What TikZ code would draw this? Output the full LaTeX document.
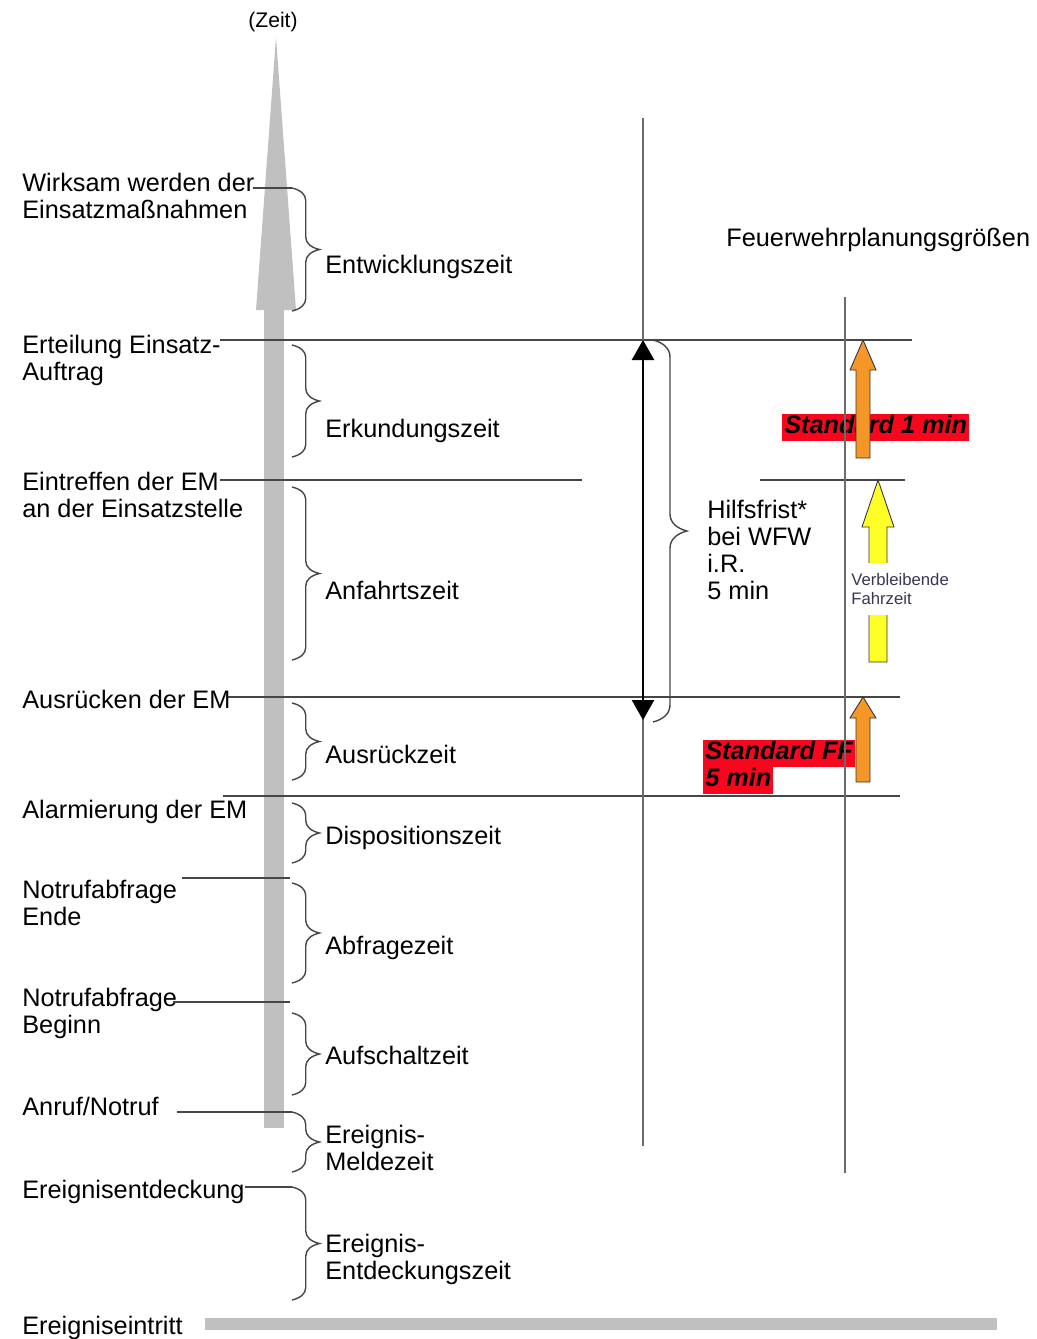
\documentclass[tikz,border=0pt]{standalone}
\usepackage{fontspec}
\setmainfont{Liberation Sans}
\usetikzlibrary{arrows.meta,decorations.pathreplacing}

\definecolor{axisgray}{RGB}{192,192,192}
\definecolor{linegray}{RGB}{70,70,70}
\definecolor{markred}{RGB}{250,5,30}
\definecolor{arroworange}{RGB}{245,150,40}
\definecolor{arrowyellow}{RGB}{255,255,40}
\definecolor{smalltext}{RGB}{60,52,82}

\begin{document}
\begin{tikzpicture}[
    x=0.02cm, y=-0.02cm,
    every node/.style={color=black, inner sep=0pt,
        font=\fontsize{14.4}{15.4}\selectfont},
    event/.style={anchor=west, align=left},
    period/.style={anchor=west, align=left},
    mark line/.style={draw=linegray, line width=0.9pt},
    time line/.style={draw=linegray!80, line width=1pt},
    span brace/.style={draw=linegray, line width=0.8pt, decorate,
        decoration={brace, amplitude=0.25cm, transform={yscale=2.2}}},
    hilfs brace/.style={draw=linegray, line width=0.8pt, decorate,
        decoration={brace, amplitude=0.34cm, transform={yscale=2}}},
    hilfs arrow/.style={line width=1.5pt,
        {Triangle[width=0.44cm,length=0.4cm]}-{Triangle[width=0.44cm,length=0.4cm]}},
    highlight/.style={anchor=west, fill=markred, inner xsep=0.04cm,
        font=\fontsize{14.4}{15.4}\selectfont\bfseries\itshape,
        text height=0.4cm, text depth=0.14cm},
    block arrow/.style={draw=black!80, line width=0.5pt, line join=miter}
    ]
    \useasboundingbox (0,0) rectangle (1036,1339);
    % time axis
    \fill[axisgray] (264,1128) rectangle (284,310);
    \fill[axisgray] (256,310) -- (276,37) -- (296,310) -- cycle;
    \node (zeit) at (273,22) {\fontsize{12}{13}\selectfont(Zeit)};
    \fill[axisgray] (205,1318) rectangle (997,1330);
    % red marks
    \node[highlight] (std1) at (782,427) {Standard 1 min};
    \node[highlight] (stdff) at (703,753) {Standard FF};
    \node[highlight] (stdffmin) at (703,780) {5 min};
    % events
    \node[event] (wirksam) at (22,195.5) {Wirksam werden der\\Einsatzmaßnahmen};
    \node[event] (erteilung) at (22,360) {Erteilung Einsatz-\\Auftrag};
    \node[event] (eintreffen) at (22,495) {Eintreffen der EM\\an der Einsatzstelle};
    \node[event] (ausruecken) at (22,699) {Ausrücken der EM};
    \node[event] (alarmierung) at (22,812) {Alarmierung der EM};
    \node[event] (abfrageende) at (22,903) {Notrufabfrage\\Ende};
    \node[event] (abfragebeginn) at (22,1013) {Notrufabfrage\\Beginn};
    \node[event] (anruf) at (22,1106) {Anruf/Notruf};
    \node[event] (entdeckung) at (22,1192) {Ereignisentdeckung};
    \node[event] (eintritt) at (22,1328) {Ereigniseintritt};
    % periods
    \node[period] (entwicklung) at (325,267) {Entwicklungszeit};
    \node[period] (erkundung) at (325,431) {Erkundungszeit};
    \node[period] (anfahrt) at (325,590) {Anfahrtszeit};
    \node[period] (ausrueckzeit) at (325,754) {Ausrückzeit};
    \node[period] (disposition) at (325,838) {Dispositionszeit};
    \node[period] (abfrage) at (325,948) {Abfragezeit};
    \node[period] (aufschalt) at (325,1055) {Aufschaltzeit};
    \node[period] (meldezeit) at (325,1148) {Ereignis-\\Meldezeit};
    \node[period] (entdeckzeit) at (325,1259) {Ereignis-\\Entdeckungszeit};
    % marks
    \draw[mark line] (253,188) -- (292,188);
    \draw[mark line] (220,340) -- (912,340);
    \draw[mark line] (220,480) -- (582,480);
    \draw[mark line] (760,480) -- (905,480);
    \draw[mark line] (228,697) -- (900,697);
    \draw[mark line] (223,796) -- (900,796);
    \draw[mark line] (182,878) -- (290,878);
    \draw[mark line] (173,1002) -- (290,1002);
    \draw[mark line] (177,1112) -- (292,1112);
    \draw[mark line] (245,1187) -- (292,1187);
    % braces
    \draw[span brace] (292,188) -- (292,311);
    \draw[span brace] (292,345) -- (292,457);
    \draw[span brace] (292,487) -- (292,660);
    \draw[span brace] (292,703) -- (292,780);
    \draw[span brace] (292,803) -- (292,863);
    \draw[span brace] (292,883) -- (292,983);
    \draw[span brace] (292,1013) -- (292,1095);
    \draw[span brace] (292,1112) -- (292,1172);
    \draw[span brace] (292,1187) -- (292,1300);
    % planning columns
    \draw[time line] (643,118) -- (643,1146);
    \draw[time line] (845,297) -- (845,1173);
    \coordinate (hftop) at (643,340);
    \coordinate (hfbot) at (643,720);
    \draw[hilfs arrow] (hftop) -- (hfbot);
    \draw[hilfs brace] (653,340) -- (653,722);
    \node[period] (hilfsfrist) at (707,550) {Hilfsfrist*\\bei WFW\\i.R.\\5 min};
    \node[anchor=west] (planung) at (726,240) {Feuerwehrplanungsgrößen};
    % block arrows
    \filldraw[block arrow, fill=arroworange] (856,458) -- (856,370) -- (850,370)
        -- (863,340) -- (876,370) -- (870,370) -- (870,458) -- cycle;
    \filldraw[block arrow, fill=arroworange] (856,782) -- (856,718) -- (850,718)
        -- (863,697) -- (876,718) -- (870,718) -- (870,782) -- cycle;
    \filldraw[block arrow, fill=arrowyellow] (869,662) -- (869,527) -- (862,527)
        -- (878,480) -- (894,527) -- (887,527) -- (887,662) -- cycle;
    \node[anchor=west, align=left, fill=white, inner xsep=0.02cm, inner ysep=0.2cm,
        text=smalltext, font=\fontsize{9.5}{10.8}\selectfont]
        (verbleibend) at (850,589) {Verbleibende\\Fahrzeit};
\end{tikzpicture}
\end{document}
